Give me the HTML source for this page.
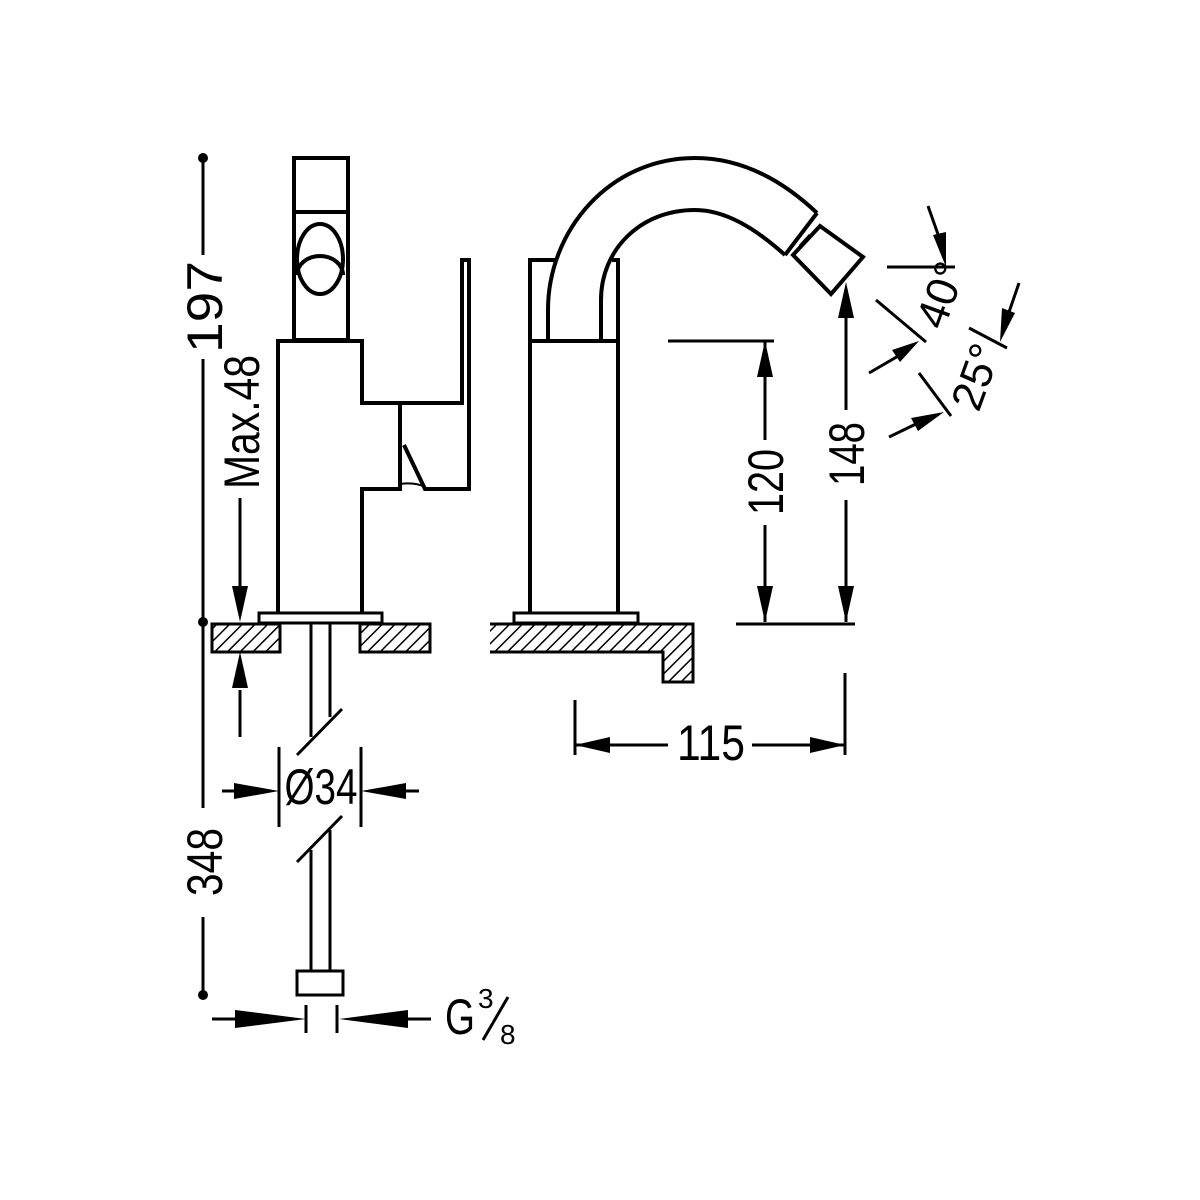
<!DOCTYPE html>
<html><head><meta charset="utf-8"><style>
html,body{margin:0;padding:0;background:#fff;}
svg{display:block;}
text{font-family:"Liberation Sans",sans-serif;fill:#000;}
</style></head><body>
<svg width="1200" height="1200" viewBox="0 0 1200 1200" xmlns="http://www.w3.org/2000/svg">
<defs>
<pattern id="h" patternUnits="userSpaceOnUse" width="9" height="9" patternTransform="rotate(45)">
<rect width="9" height="9" fill="#fff"/><line x1="0" y1="0" x2="0" y2="9" stroke="#000" stroke-width="3"/>
</pattern>
</defs>
<g fill="none" stroke="#000" stroke-width="4" stroke-linejoin="miter">
<rect x="294" y="158" width="54" height="182"/>
<line x1="294" y1="212" x2="348" y2="212"/>
<ellipse cx="320" cy="259" rx="23" ry="35"/>
<path d="M297 275 A23 19 0 0 1 343 275"/>
<path d="M278 613 L278 341 L362 341 L362 403 L400 403 L400 489 L362 489 L362 613"/>
<path d="M400 403 L462 403 L462 260 L469 260 L469 489 L425 489 L404 445"/>
<path d="M400 484 Q415 482 425 487" stroke-width="2"/>
<rect x="259" y="613" width="123" height="10" stroke-width="3"/>
</g>
<g stroke="#000" stroke-width="3">
<rect x="212" y="624" width="68" height="28" fill="url(#h)"/>
<rect x="360" y="624" width="70" height="28" fill="url(#h)"/>
<path d="M490 624 H693 V682 H663 V652 H490" fill="url(#h)"/>
</g>
<g fill="none" stroke="#000" stroke-width="3">
<line x1="311" y1="624" x2="311" y2="737"/>
<line x1="330" y1="624" x2="330" y2="717"/>
<line x1="297" y1="755" x2="342" y2="709"/>
<line x1="297" y1="862" x2="342" y2="816"/>
<line x1="311" y1="850" x2="311" y2="971"/>
<line x1="330" y1="830" x2="330" y2="971"/>
<rect x="297" y="971" width="46" height="24"/>
<line x1="203" y1="158" x2="203" y2="255"/>
<line x1="203" y1="359" x2="203" y2="808"/>
<line x1="203" y1="917" x2="203" y2="995"/>
<line x1="240" y1="498" x2="240" y2="600"/>
<line x1="240" y1="690" x2="240" y2="737"/>
<line x1="279" y1="747" x2="279" y2="827"/>
<line x1="361" y1="747" x2="361" y2="827"/>
<line x1="222" y1="791" x2="262" y2="791"/>
<line x1="378" y1="791" x2="419" y2="791"/>
<line x1="306" y1="1005" x2="306" y2="1033"/>
<line x1="337" y1="1005" x2="337" y2="1033"/>
<line x1="212" y1="1019" x2="260" y2="1019"/>
<line x1="385" y1="1019" x2="431" y2="1019"/>
</g>
<g fill="#000">
<circle cx="203" cy="158" r="5"/>
<circle cx="203" cy="622" r="5"/>
<circle cx="203" cy="995" r="5"/>
<polygon points="240,622 232,586 248,586"/>
<polygon points="240,652 232,688 248,688"/>
<polygon points="279,791 234,783 234,799"/>
<polygon points="361,791 406,783 406,799"/>
<polygon points="306,1019 235,1010 235,1028"/>
<polygon points="339,1019 408,1010 408,1028"/>
</g>
<g fill="none" stroke="#000" stroke-width="4">
<path d="M530 613 V260 H555"/>
<path d="M618 613 V260 H612"/>
<line x1="530" y1="341" x2="618" y2="341"/>
<path d="M548 341 V310 C548 230 610 158 695 158 C740 158 780 178 817 213"/>
<path d="M601 341 V300 C601 250 640 210 695 210 C725 210 755 228 785 255"/>
<line x1="817" y1="213" x2="785" y2="255"/>
<path d="M793 255 L820 226 L863 257 L831 294 Z"/>
<line x1="810" y1="235" x2="800" y2="246" stroke-width="3"/>
<rect x="514" y="613" width="124" height="10" stroke-width="3"/>
</g>
<g fill="none" stroke="#000" stroke-width="3">
<line x1="668" y1="341" x2="774" y2="341"/>
<line x1="765" y1="341" x2="765" y2="440"/>
<line x1="765" y1="525" x2="765" y2="622"/>
<line x1="846" y1="290" x2="846" y2="410"/>
<line x1="846" y1="500" x2="846" y2="622"/>
<line x1="736" y1="624" x2="855" y2="624"/>
<line x1="575" y1="700" x2="575" y2="755"/>
<line x1="845" y1="673" x2="845" y2="755"/>
<line x1="575" y1="745" x2="668" y2="745"/>
<line x1="752" y1="745" x2="845" y2="745"/>
<line x1="887" y1="267" x2="955" y2="267"/>
<line x1="928" y1="206" x2="940" y2="240"/>
<line x1="876" y1="300" x2="926" y2="342"/>
<line x1="869" y1="373" x2="900" y2="355"/>
<line x1="969" y1="328" x2="1007" y2="348"/>
<line x1="1019" y1="283" x2="1008" y2="315"/>
<line x1="919" y1="373" x2="951" y2="416"/>
<line x1="889" y1="437" x2="920" y2="422"/>
</g>
<g fill="#000">
<polygon points="765,341 757,377 773,377"/>
<polygon points="765,622 757,586 773,586"/>
<polygon points="846,282 838,318 854,318"/>
<polygon points="846,622 838,586 854,586"/>
<polygon points="575,745 610,737 610,753"/>
<polygon points="845,745 810,737 810,753"/>
<polygon points="946,267 933,235 946,232"/>
<polygon points="919,341 892,350 900,362"/>
<polygon points="1000,342 1002,308 1015,313"/>
<polygon points="944,412 911,418 918,431"/>
</g>
<g font-size="50">
<text transform="translate(222,307) rotate(-90)" text-anchor="middle" textLength="92" lengthAdjust="spacingAndGlyphs">197</text>
<text transform="translate(222,862) rotate(-90)" text-anchor="middle" textLength="68" lengthAdjust="spacingAndGlyphs">348</text>
<text transform="translate(259,422) rotate(-90)" text-anchor="middle" textLength="134" lengthAdjust="spacingAndGlyphs">Max.48</text>
<text transform="translate(783,482) rotate(-90)" text-anchor="middle" textLength="66" lengthAdjust="spacingAndGlyphs">120</text>
<text transform="translate(864,454) rotate(-90)" text-anchor="middle" textLength="64" lengthAdjust="spacingAndGlyphs">148</text>
<text x="711" y="760" text-anchor="middle" textLength="68" lengthAdjust="spacingAndGlyphs">115</text>
<text x="321" y="804" text-anchor="middle" textLength="73" lengthAdjust="spacingAndGlyphs">Ø34</text>
<text x="445" y="1034" textLength="30" lengthAdjust="spacingAndGlyphs">G</text>
<text transform="translate(955,300) rotate(-70)" text-anchor="middle" font-size="44">40°</text>
<text transform="translate(990,382) rotate(-70)" text-anchor="middle" font-size="44">25°</text>
</g>
<text x="478" y="1008" font-size="28">3</text>
<line x1="483" y1="1040" x2="508" y2="997" stroke="#000" stroke-width="3"/>
<text x="500" y="1044" font-size="28">8</text>
</svg>
</body></html>
